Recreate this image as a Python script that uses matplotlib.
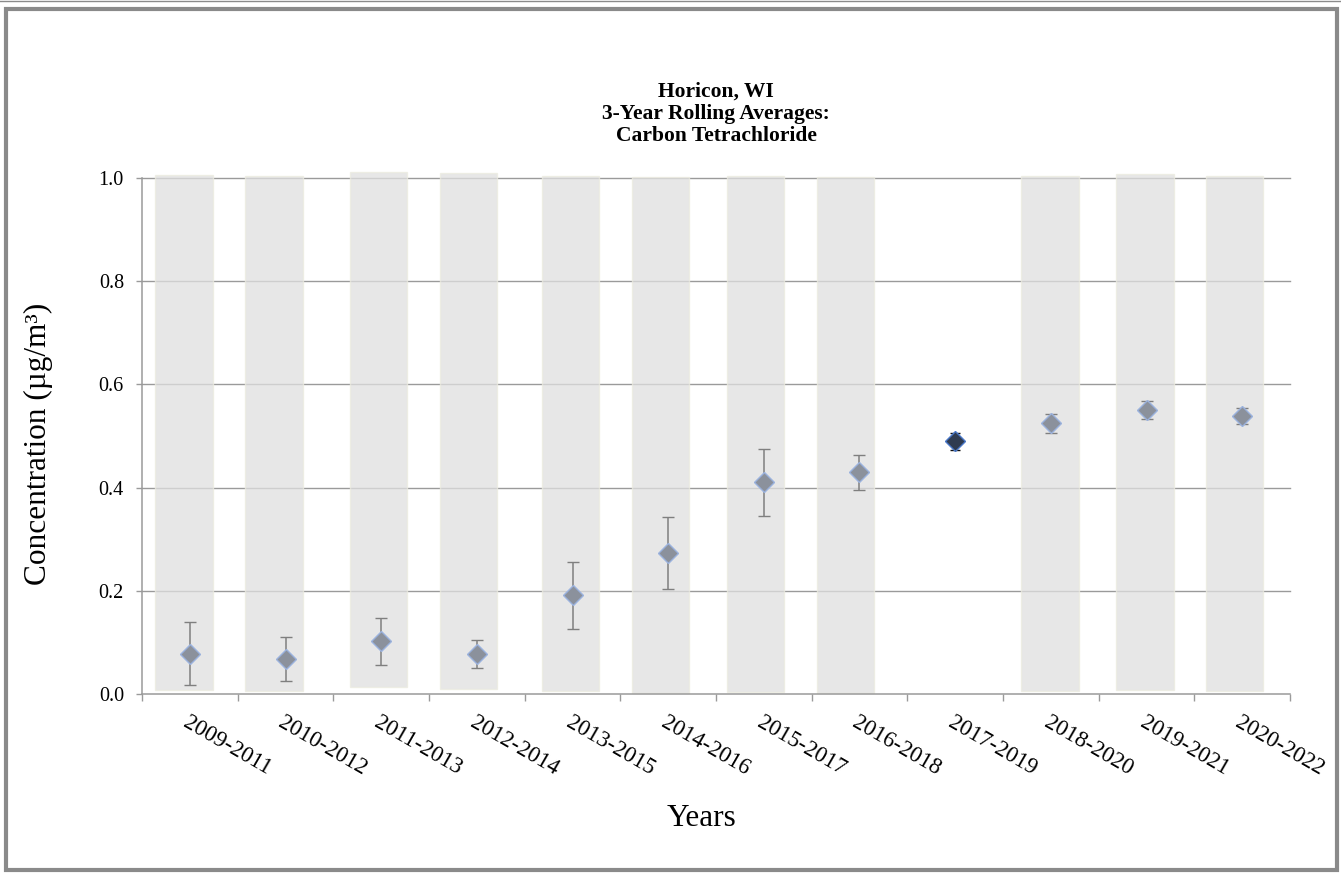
import numpy as np
import matplotlib
matplotlib.use("Agg")
import matplotlib.pyplot as plt
from matplotlib.patches import Rectangle

plt.rcParams['font.family'] = ['Liberation Serif', 'DejaVu Serif']

# data
periods = ["2009-2011", "2010-2012", "2011-2013", "2012-2014", "2013-2015", "2014-2016",
           "2015-2017", "2016-2018", "2017-2019", "2018-2020", "2019-2021", "2020-2022"]
avg = [0.077, 0.068, 0.103, 0.077, 0.191, 0.273, 0.410, 0.430, 0.490, 0.525, 0.550, 0.539]
ci_low = [0.017, 0.026, 0.056, 0.050, 0.126, 0.203, 0.344, 0.395, 0.473, 0.506, 0.532, 0.523]
ci_high = [0.139, 0.110, 0.147, 0.105, 0.256, 0.343, 0.475, 0.463, 0.506, 0.542, 0.567, 0.554]

# gray shaded bands behind the points (no band for 2017-2019)
band_bottom = [0.008, 0.005, 0.013, 0.010, 0.005, 0.001, 0.004, 0.001, np.nan, 0.005, 0.008, 0.005]
band_top = [1.005, 1.003, 1.011, 1.009, 1.003, 1.001, 1.003, 1.001, np.nan, 1.003, 1.007, 1.003]

# layout only: bands were hand placed slightly left of the category centre
band_shift = [-0.063, -0.122, -0.025, -0.084, -0.019, -0.078, -0.087, -0.146, 0, -0.009, -0.015, -0.078]
band_width = 0.6
highlight = 8  # 2017-2019 drawn darker

W, H = 1341, 873
fig = plt.figure(figsize=(W / 100, H / 100), dpi=100)
ax = fig.add_axes([142 / W, 1 - 694 / H, (1290 - 142) / W, (694 - 178) / H])

x = np.arange(len(periods)) + 0.5
ax.set_xlim(0, len(periods))
ax.set_ylim(0, 1.0)

# grid lines under the semi transparent bands
for g in [0.2, 0.4, 0.6, 0.8, 1.0]:
    ax.axhline(g, color='#9a9a9a', lw=1.0, zorder=1, clip_on=False)

bh = np.array(band_top) - np.array(band_bottom)
ax.bar(x + np.array(band_shift), bh, bottom=band_bottom, width=band_width,
       color='#e0e0e0', alpha=0.75, edgecolor='#ecebe0', linewidth=1.0,
       zorder=2, clip_on=False)

avg = np.array(avg)
lo = avg - np.array(ci_low)
hi = np.array(ci_high) - avg
mask = np.arange(len(periods)) != highlight
ax.errorbar(x[mask], avg[mask], yerr=[lo[mask], hi[mask]], fmt='D', ms=10.5,
            mfc='#8b919c', mec='#9bb2de', mew=1.0, ecolor='#7f7f7f', elinewidth=1.1,
            capsize=4.3, capthick=1.1, zorder=3)
ax.errorbar(x[highlight], avg[highlight], yerr=[[lo[highlight]], [hi[highlight]]], fmt='D',
            ms=10.5, mfc='#2f3b50', mec='#4a78c8', mew=1.0, ecolor='#111111',
            elinewidth=1.1, capsize=3.5, capthick=1.1, zorder=3)

# axes styling
for s in ['top', 'right']:
    ax.spines[s].set_visible(False)
for s in ['left', 'bottom']:
    ax.spines[s].set_color('#9a9a9a')
    ax.spines[s].set_linewidth(1.1)

ax.set_yticks([0.0, 0.2, 0.4, 0.6, 0.8, 1.0])
ax.set_yticklabels(['0.0', '0.2', '0.4', '0.6', '0.8', '1.0'])
ax.tick_params(axis='y', direction='out', length=4, width=1.0, color='#9a9a9a',
               labelsize=14.5, pad=9)

ax.set_xticks(np.arange(len(periods) + 1))
ax.set_xticklabels([])
ax.tick_params(axis='x', which='major', direction='out', length=5, width=1.0, color='#9a9a9a')
ax.set_xticks(x, minor=True)
ax.set_xticklabels(periods, minor=True, rotation=-30, ha='left', va='top',
                   rotation_mode='anchor', fontsize=16.5)
ax.tick_params(axis='x', which='minor', length=0, pad=13)

fig.text(38 / W, 1 - 444 / H, 'Concentration (µg/m³)', rotation=90, ha='center', va='center',
         fontsize=22.5)
fig.text(701 / W, 1 - 819 / H, 'Years', ha='center', va='center', fontsize=22.5)
fig.text(716 / W, 1 - 114 / H, 'Horicon, WI\n3-Year Rolling Averages:\nCarbon Tetrachloride',
         ha='center', va='center', fontsize=15.5, fontweight='bold', linespacing=1.15)

# outer frame
fig.patches.append(Rectangle((6 / W, 3 / H), (W - 10) / W, (H - 12) / H, transform=fig.transFigure,
                             fill=False, edgecolor='#8a8a8a', lw=3.0))
fig.lines.append(plt.Line2D([0, 1], [1 - 0.5 / H, 1 - 0.5 / H], transform=fig.transFigure,
                            color='#8a8a8a', lw=1.0))

fig.savefig('out.png', dpi=100)
